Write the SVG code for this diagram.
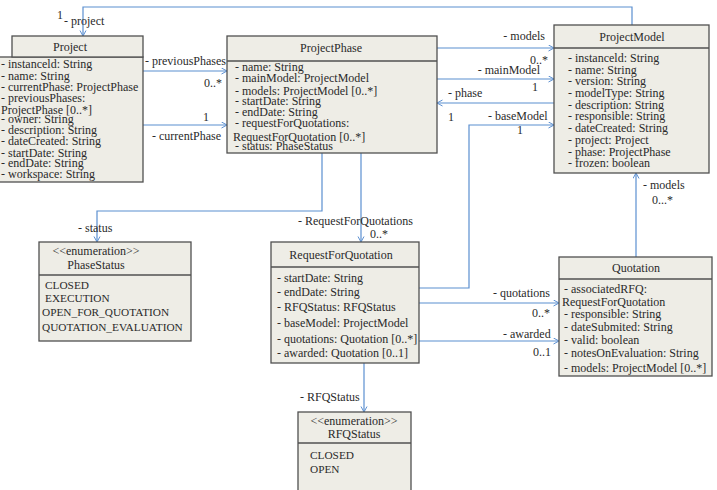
<svg xmlns="http://www.w3.org/2000/svg" width="717" height="490" viewBox="0 0 717 490">
<defs>
<marker id="arr" markerWidth="8" markerHeight="8" refX="6" refY="3.5" orient="auto" markerUnits="userSpaceOnUse">
<path d="M0.5,0.5 L6,3.5 L0.5,6.5" fill="none" stroke="#5b8fd0" stroke-width="1"/>
</marker>
<style>
.box{fill:#eeede6;stroke:#505050;stroke-width:1.3}
.t{font-family:"Liberation Serif","Times New Roman",serif;font-size:12px;fill:#2a2a2a}
.c{text-anchor:middle}
.e{text-anchor:end}
.en{font-family:"Liberation Serif","Times New Roman",serif;font-size:11.3px;fill:#2a2a2a}
.ln{fill:none;stroke:#5b8fd0;stroke-width:1.2}
</style>
</defs>
<rect width="717" height="490" fill="#ffffff"/>

<g id="connectors">
<polyline class="ln" points="632,25 632,7 83,7 83,36" marker-end="url(#arr)"/>
<line class="ln" x1="143" y1="71" x2="227" y2="71" marker-end="url(#arr)"/>
<line class="ln" x1="143" y1="125" x2="227" y2="125" marker-end="url(#arr)"/>
<line class="ln" x1="437" y1="48" x2="554" y2="48" marker-end="url(#arr)"/>
<line class="ln" x1="437" y1="79" x2="554" y2="79" marker-end="url(#arr)"/>
<line class="ln" x1="554" y1="103" x2="437" y2="103" marker-end="url(#arr)"/>
<polyline class="ln" points="419,288 469,288 469,125 554,125" marker-end="url(#arr)"/>
<polyline class="ln" points="322,153 322,211 97,211 97,242" marker-end="url(#arr)"/>
<line class="ln" x1="361" y1="153" x2="361" y2="242" marker-end="url(#arr)"/>
<line class="ln" x1="419" y1="303" x2="559" y2="303" marker-end="url(#arr)"/>
<line class="ln" x1="419" y1="341" x2="559" y2="341" marker-end="url(#arr)"/>
<line class="ln" x1="636" y1="257" x2="636" y2="173" marker-end="url(#arr)"/>
<line class="ln" x1="364" y1="363" x2="364" y2="412" marker-end="url(#arr)"/>
<text class="t" x="57" y="19">1</text>
<text class="t" x="64" y="25">- project</text>
<text class="t" x="145" y="65">- previousPhases</text>
<text class="t" x="204" y="87">0..*</text>
<text class="t" x="203" y="121">1</text>
<text class="t" x="152" y="140">- currentPhase</text>
<text class="t e" x="545" y="40">- models</text>
<text class="t" x="530" y="64">0..*</text>
<text class="t e" x="540" y="74">- mainModel</text>
<text class="t" x="532" y="91">1</text>
<text class="t" x="448" y="97">- phase</text>
<text class="t" x="448" y="121">1</text>
<text class="t" x="488" y="120">- baseModel</text>
<text class="t" x="517" y="134">1</text>
<text class="t" x="78" y="232">- status</text>
<text class="t" x="298" y="225">- RequestForQuotations</text>
<text class="t" x="370" y="238">0..*</text>
<text class="t" x="493" y="297">- quotations</text>
<text class="t" x="532" y="317">0..*</text>
<text class="t" x="503" y="338">- awarded</text>
<text class="t" x="533" y="356">0..1</text>
<text class="t" x="643" y="189">- models</text>
<text class="t" x="652" y="204">0...*</text>
<text class="t" x="300" y="401">- RFQStatus</text>
</g>

<g id="Project">
<rect class="box" x="-2" y="57" width="145" height="125"/>
<rect class="box" x="12" y="36" width="131" height="21"/>
<text class="t c" x="70" y="51">Project</text>
<text class="t" x="1" y="68">- instanceld: String</text>
<text class="t" x="1" y="80">- name: String</text>
<text class="t" x="1" y="91">- currentPhase: ProjectPhase</text>
<text class="t" x="1" y="102">- previousPhases:</text>
<text class="t" x="1" y="114">ProjectPhase [0..*]</text>
<text class="t" x="1" y="123">- owner: String</text>
<text class="t" x="1" y="134">- description: String</text>
<text class="t" x="1" y="145">- dateCreated: String</text>
<text class="t" x="1" y="157">- startDate: String</text>
<text class="t" x="1" y="167">- endDate: String</text>
<text class="t" x="1" y="178">- workspace: String</text>
</g>

<g id="ProjectPhase">
<rect class="box" x="227" y="36" width="210" height="117"/>
<line x1="227" y1="61" x2="437" y2="61" stroke="#505050" stroke-width="1.3"/>
<text class="t c" x="331" y="52">ProjectPhase</text>
<text class="t" x="235" y="71">- name: String</text>
<text class="t" x="235" y="82">- mainModel: ProjectModel</text>
<text class="t" x="235" y="95">- models: ProjectModel [0..*]</text>
<text class="t" x="235" y="105">- startDate: String</text>
<text class="t" x="235" y="116">- endDate: String</text>
<text class="t" x="235" y="127">- requestForQuotations:</text>
<text class="t" x="233" y="141">RequestForQuotation [0..*]</text>
<text class="t" x="235" y="150">- status: PhaseStatus</text>
</g>

<g id="ProjectModel">
<rect class="box" x="554" y="25" width="155" height="148"/>
<line x1="554" y1="48" x2="709" y2="48" stroke="#505050" stroke-width="1.3"/>
<text class="t c" x="632" y="41">ProjectModel</text>
<text class="t" x="568" y="62">- instanceld: String</text>
<text class="t" x="568" y="74">- name: String</text>
<text class="t" x="568" y="85">- version: String</text>
<text class="t" x="568" y="97">- modelType: String</text>
<text class="t" x="568" y="109">- description: String</text>
<text class="t" x="568" y="120">- responsible: String</text>
<text class="t" x="568" y="132">- dateCreated: String</text>
<text class="t" x="568" y="144">- project: Project</text>
<text class="t" x="568" y="156">- phase: ProjectPhase</text>
<text class="t" x="568" y="167">- frozen: boolean</text>
</g>

<g id="PhaseStatus">
<rect class="box" x="39" y="242" width="152" height="99"/>
<line x1="39" y1="275" x2="191" y2="275" stroke="#505050" stroke-width="1.3"/>
<text class="t c" x="96" y="255">&lt;&lt;enumeration&gt;&gt;</text>
<text class="t c" x="96" y="269">PhaseStatus</text>
<text class="en" x="45" y="289">CLOSED</text>
<text class="en" x="45" y="302">EXECUTION</text>
<text class="en" x="42" y="316">OPEN_FOR_QUOTATION</text>
<text class="en" x="42" y="331">QUOTATION_EVALUATION</text>
</g>

<g id="RequestForQuotation">
<rect class="box" x="271" y="242" width="148" height="121"/>
<line x1="271" y1="267" x2="419" y2="267" stroke="#505050" stroke-width="1.3"/>
<text class="t c" x="341" y="259">RequestForQuotation</text>
<text class="t" x="277" y="282">- startDate: String</text>
<text class="t" x="277" y="296">- endDate: String</text>
<text class="t" x="277" y="311">- RFQStatus: RFQStatus</text>
<text class="t" x="277" y="327">- baseModel: ProjectModel</text>
<text class="t" x="277" y="343">- quotations: Quotation [0..*]</text>
<text class="t" x="277" y="357">- awarded: Quotation [0..1]</text>
</g>

<g id="Quotation">
<rect class="box" x="559" y="257" width="153" height="119"/>
<line x1="559" y1="279" x2="712" y2="279" stroke="#505050" stroke-width="1.3"/>
<text class="t c" x="636" y="272">Quotation</text>
<text class="t" x="564" y="293">- associatedRFQ:</text>
<text class="t" x="562" y="306">RequestForQuotation</text>
<text class="t" x="564" y="318">- responsible: String</text>
<text class="t" x="564" y="331">- dateSubmited: String</text>
<text class="t" x="564" y="344">- valid: boolean</text>
<text class="t" x="564" y="357">- notesOnEvaluation: String</text>
<text class="t" x="564" y="372">- models: ProjectModel [0..*]</text>
</g>

<g id="RFQStatus">
<rect class="box" x="298" y="412" width="113" height="84"/>
<line x1="298" y1="443" x2="411" y2="443" stroke="#505050" stroke-width="1.3"/>
<text class="t c" x="354" y="425">&lt;&lt;enumeration&gt;&gt;</text>
<text class="t c" x="354" y="438">RFQStatus</text>
<text class="en" x="310" y="459">CLOSED</text>
<text class="en" x="310" y="473">OPEN</text>
</g>
</svg>
